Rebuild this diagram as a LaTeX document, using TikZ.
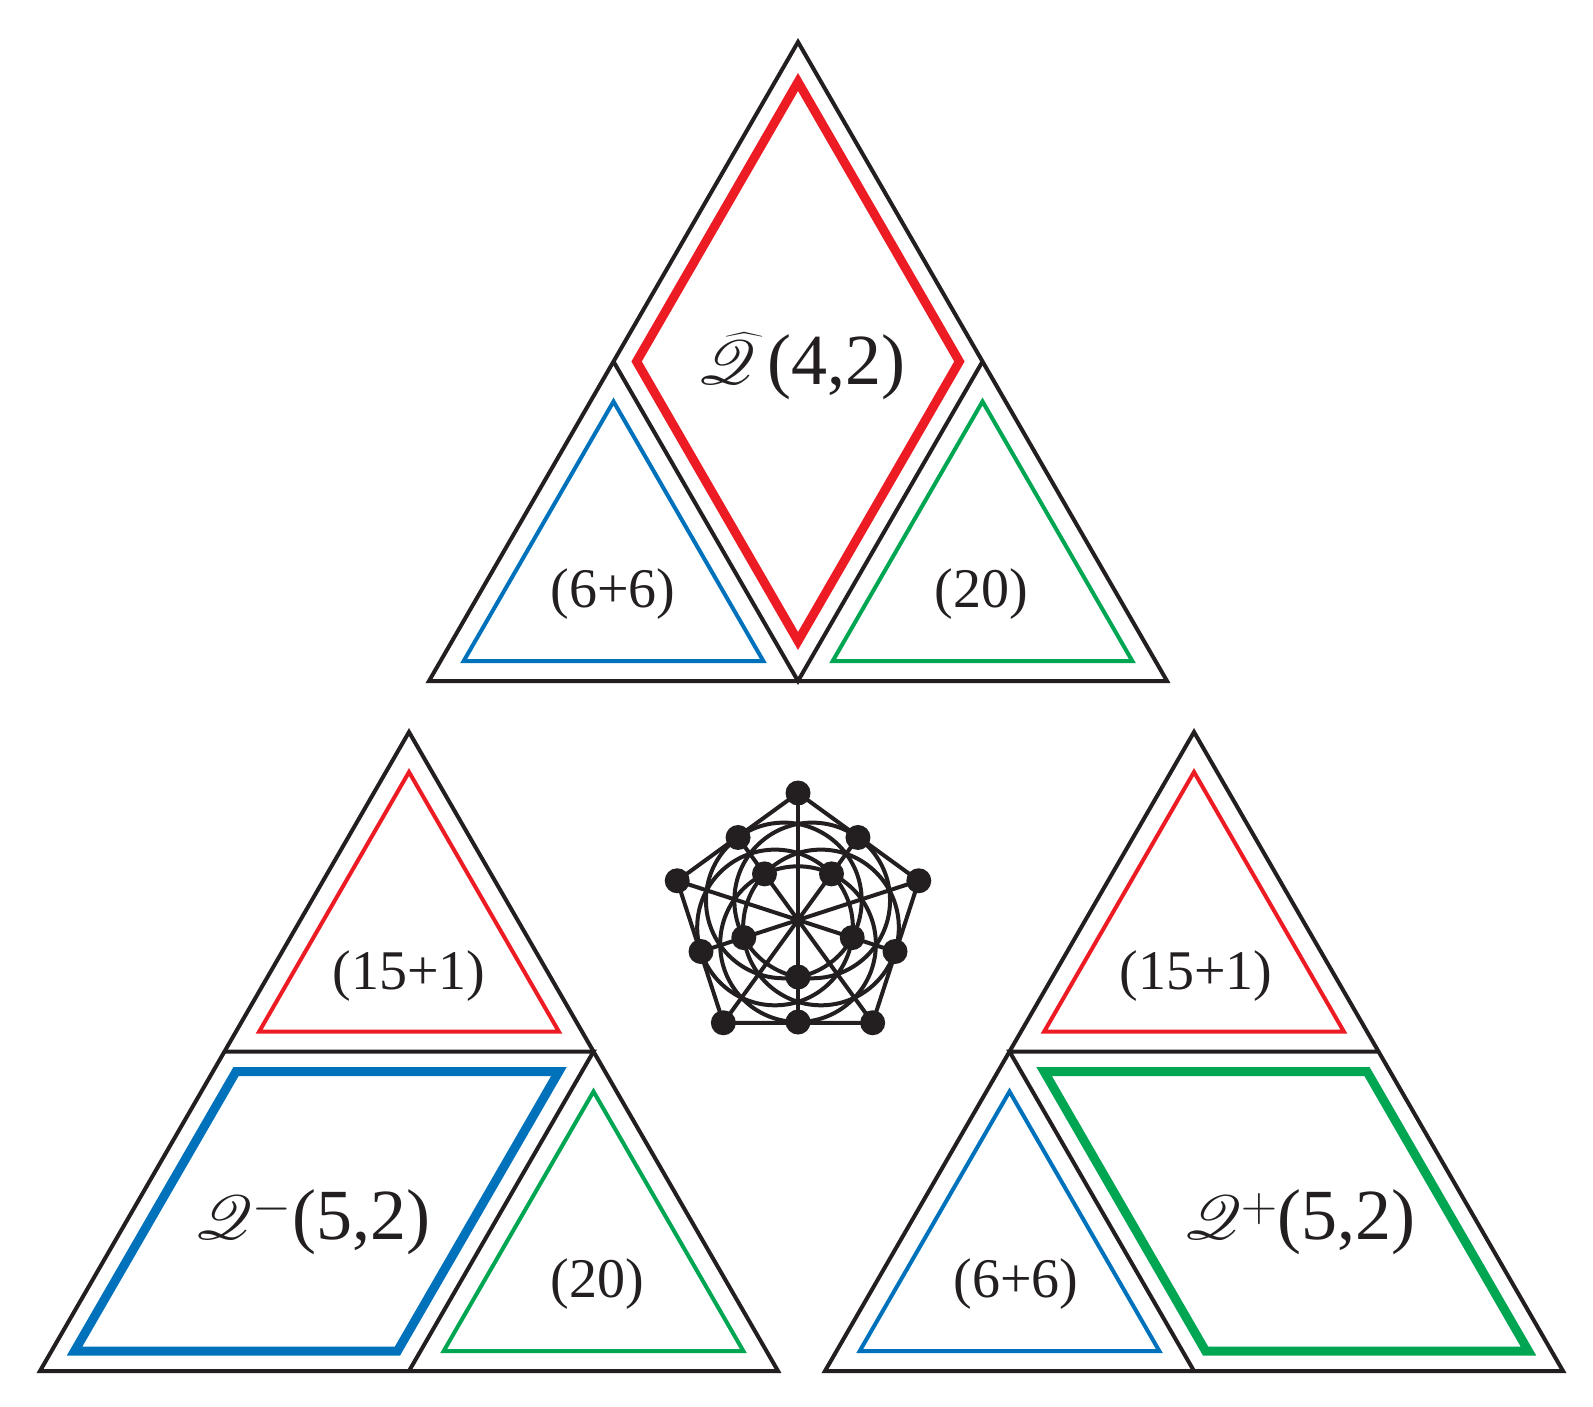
\documentclass[tikz,border=0pt]{standalone}
\usepackage{fontspec}
\setmainfont{Liberation Serif}
\usepackage{mathrsfs}
\usepackage{graphicx}
\definecolor{cred}{RGB}{237,28,36}
\definecolor{cblue}{RGB}{0,114,188}
\definecolor{cgreen}{RGB}{0,166,81}
\definecolor{cblack}{RGB}{35,31,32}
\newcommand{\bigQ}{\scalebox{1.25}{$\mathscr{Q}$}}
\newcommand{\hatQ}{\scalebox{1.25}{$\widehat{\mathscr{Q}}$}}
\tikzset{
  blk/.style={draw=cblack,line width=2pt,line join=miter},
  thin/.style={line width=2pt,line join=miter},
  thick/.style={line width=4.5pt,line join=miter},
  small/.style={font=\fontsize{28}{30}\selectfont,text=cblack},
  big/.style={font=\fontsize{36}{40}\selectfont,text=cblack},
  dot/.style={circle,fill=cblack,inner sep=0pt,minimum size=12.5pt},
  gl/.style={draw=cblack,line width=2pt}
}
\newcommand{\outertri}{%
  \coordinate (A) at (0,0); \coordinate (L) at (-184.5,319.5); \coordinate (R) at (184.5,319.5);
  \coordinate (BL) at (-369,639); \coordinate (BM) at (0,639); \coordinate (BR) at (369,639);
  \draw[blk] (A) -- (BL) -- (BR) -- cycle;}
\newcommand{\insettri}[3]{% color, apex x, apex y
  \draw[thin,draw=#1] (#2,#3+40) -- (#2-149.8,#3+299.5) -- (#2+149.8,#3+299.5) -- cycle;}
\begin{document}
\begin{tikzpicture}[x=0.5pt,y=-0.5pt]
\useasboundingbox (0,0) rectangle (1593,1406);
% top triangle
\begin{scope}[shift={(798,42)}]
  \outertri
  \draw[blk] (L) -- (BM) -- (R);
  \draw[thick,draw=cred] (0,40) -- (-161.4,319.5) -- (0,599) -- (161.4,319.5) -- cycle;
  \insettri{cblue}{-184.5}{319.5}
  \insettri{cgreen}{184.5}{319.5}
  \node[big] (t1) at (4,324) {\hatQ\,(4,2)};
  \node[small] (t2) at (-185,552) {(6+6)};
  \node[small] (t3) at (183,552) {(20)};
\end{scope}
% bottom left
\begin{scope}[shift={(409,732)}]
  \outertri
  \draw[blk] (L) -- (R) -- (BM);
  \insettri{cred}{0}{0}
  \insettri{cgreen}{184.5}{319.5}
  \draw[thick,draw=cblue] (-172.95,339.5) -- (149.9,339.5) -- (-11.55,619) -- (-334.4,619) -- cycle;
  \node[small] (l1) at (0,244) {(15+1)};
  \node[big] (l2) at (-96,490) {\bigQ$^{-}$(5,2)};
  \node[small] (l3) at (188,552) {(20)};
\end{scope}
% bottom right
\begin{scope}[shift={(1194,732)}]
  \outertri
  \draw[blk] (R) -- (L) -- (BM);
  \insettri{cred}{0}{0}
  \insettri{cblue}{-184.5}{319.5}
  \draw[thick,draw=cgreen] (172.95,339.5) -- (-149.9,339.5) -- (11.55,619) -- (334.4,619) -- cycle;
  \node[small] (r1) at (2,244) {(15+1)};
  \node[big] (r2) at (106,490) {\bigQ$^{+}$(5,2)};
  \node[small] (r3) at (-178,552) {(6+6)};
\end{scope}
% doily
\begin{scope}[shift={(798,920)},y=0.5pt]
  \coordinate (O) at (0,0);
  \foreach \k in {0,...,4}{
    \pgfmathsetmacro{\va}{90+72*\k}
    \pgfmathsetmacro{\ma}{270+72*\k}
    \coordinate (V\k) at (\va:127);
    \coordinate (M\k) at (\ma:102);
    \coordinate (I\k) at (\ma:57);
    \coordinate (C\k) at (\ma:24.16);
  }
  \foreach \k in {0,...,4}{
    \draw[gl] (C\k) circle[radius=77.84];
    \draw[gl] (V\k) -- (M\k);
  }
  \draw[gl] (V0) -- (V1) -- (V2) -- (V3) -- (V4) -- cycle;
  \foreach \k in {0,...,4}{
    \node[dot] (dv\k) at (V\k) {};
    \node[dot] (dm\k) at (M\k) {};
    \node[dot] (di\k) at (I\k) {};
  }
\end{scope}
\end{tikzpicture}
\end{document}
